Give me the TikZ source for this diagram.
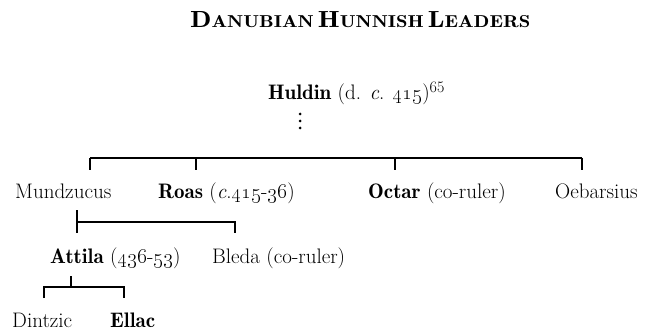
\RequirePackage{fix-cm}
\documentclass[tikz,border=0pt]{standalone}
\usepackage{graphicx}
\newcommand{\osn}[1]{\oldstylenums{#1}}
\newcommand{\nm}[1]{{\fontseries{b}\selectfont #1}}
\newcommand{\bigsc}[2]{{\fontsize{23}{26}\selectfont #1}{\fontsize{17}{20}\selectfont #2}}
\begin{document}
\begin{tikzpicture}[x=1pt,y=1pt,
  person/.style={anchor=base west,inner sep=0pt,font=\fontsize{21}{25}\selectfont},
  link/.style={line width=1.5pt,line cap=butt},
  dot/.style={fill=black,draw=none}]
\useasboundingbox (0,0) rectangle (647,-331);

% title, set in bold small capitals
\node[anchor=base west,inner sep=0pt,font=\fontseries{b}\selectfont] (title) at (190,-28)
  {\resizebox{340pt}{16pt}{\bigsc{D}{ANUBIAN} \bigsc{H}{UNNISH} \bigsc{L}{EADERS}}};

% generation 0
\node[person] (huldin) at (268,-100)
  {\nm{Huldin} (d. \textit{c}. \osn{415})\textsuperscript{\fontsize{16}{18}\selectfont 65}};
\foreach \y in {114,121,128}
  \fill[dot] (300,-\y) circle (1.5);

% generation 1
\node[person] (mund)  at (15,-198)  {Mundzucus};
\node[person] (roas)  at (158,-198) {\nm{Roas} (\textit{c}.\osn{415}-\osn{36})};
\node[person] (octar) at (368,-198) {\nm{Octar} (co-ruler)};
\node[person] (oeb)   at (555,-198) {Oebarsius};

% generation 2
\node[person] (attila) at (50,-263)  {\nm{Attila} (\osn{436}-\osn{53})};
\node[person] (bleda)  at (212,-263) {Bleda (co-ruler)};

% generation 3
\node[person] (dintzic) at (12,-327)  {Dintzic};
\node[person] (ellac)   at (110,-327) {\nm{Ellac}};

% junction points of the brackets
\coordinate (t1) at (90,-158);  \coordinate (t2) at (196,-158);
\coordinate (t3) at (395,-158); \coordinate (t4) at (582,-158);
\coordinate (m0) at (77,-210);  \coordinate (m1) at (77,-222);
\coordinate (m2) at (235,-222);
\coordinate (a0) at (71,-276);  \coordinate (a1) at (71,-287);
\coordinate (d1) at (44,-287);  \coordinate (d2) at (124,-287);

% sons of Huldin
\draw[link] (t1) -- (t4);
\foreach \j in {t1,t2,t3,t4}
  \draw[link] (\j) -- ++(0,-12);

% sons of Mundzucus
\draw[link] (m0) -- (77,-233);
\draw[link] (m1) -- (m2) -- ++(0,-11);

% sons of Attila
\draw[link] (a0) -- (a1);
\draw[link] (d1) ++(0,-11) -- (d1) -- (d2) -- ++(0,-11);
\end{tikzpicture}
\end{document}
